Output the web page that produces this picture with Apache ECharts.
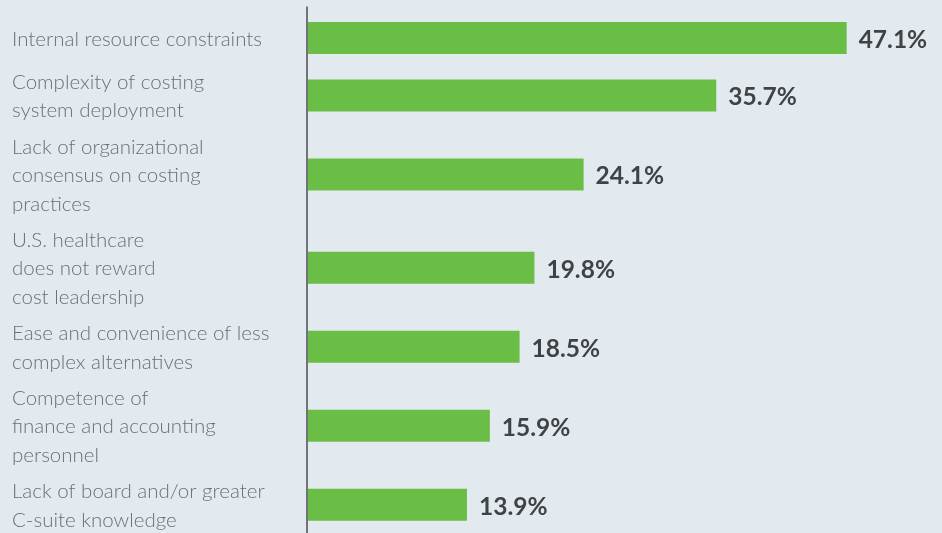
<!DOCTYPE html>
<html>
<head>
<meta charset="utf-8">
<script src="https://cdn.jsdelivr.net/npm/echarts@6/dist/echarts.min.js"></script>
<style>
  html, body { margin: 0; padding: 0; background: #e2eaf0; }
  #chart { width: 942px; height: 533px; }
</style>
</head>
<body>
<div id="chart"></div>
<script>
// categories, top to bottom
const categories = [
  "Internal resource constraints",
  "Complexity of costing\nsystem deployment",
  "Lack of organizational\nconsensus on costing\npractices",
  "U.S. healthcare\ndoes not reward\ncost leadership",
  "Ease and convenience of less\ncomplex alternatives",
  "Competence of\nfinance and accounting\npersonnel",
  "Lack of board and/or greater\nC-suite knowledge"
];
// percent of respondents
const values = [47.1, 35.7, 24.1, 19.8, 18.5, 15.9, 13.9];

// label blocks are stacked by their line count, bars sit in the middle of each block
const LINE_H = 28.6;
const BLOCK_GAP = 7.5;
const FIRST_TOP = 17.5;
const BAR_H = 32;

let blockTop = FIRST_TOP;
const centers = categories.map(c => {
  const h = Math.max(c.split("\n").length, 1.5) * LINE_H;
  const mid = blockTop + h / 2;
  blockTop += h + BLOCK_GAP;
  return mid;
});

const chart = echarts.init(document.getElementById("chart"));

chart.setOption({
  backgroundColor: "#e2eaf0",
  animation: false,
  grid: [
    { left: 308, top: 0, width: 629, height: 533, outerBoundsMode: "none" },
    // only for the vertical axis line
    { left: 307, top: 7, width: 1, height: 540, outerBoundsMode: "none" }
  ],
  xAxis: [
    { gridIndex: 0, type: "value", min: 0, max: 55, show: false },
    { gridIndex: 1, type: "value", show: false }
  ],
  yAxis: [
    {
      gridIndex: 0,
      type: "value",
      min: 0,
      max: 533,
      inverse: true,
      axisLine: { show: false },
      axisTick: { show: false },
      splitLine: { show: false },
      axisLabel: {
        customValues: centers,
        formatter: val => {
          let best = 0;
          centers.forEach((c, i) => {
            if (Math.abs(c - val) < Math.abs(centers[best] - val)) best = i;
          });
          return categories[best];
        },
        align: "left",
        margin: 296,
        color: "#6b7075",
        fontFamily: "Lato",
        fontWeight: 300,
        fontSize: 20.5,
        lineHeight: LINE_H,
        padding: [4, 0, 0, 0],
        hideOverlap: false
      }
    },
    {
      gridIndex: 1,
      type: "value",
      axisLine: { show: true, lineStyle: { color: "#4a4d50", width: 1.5 } },
      axisTick: { show: false },
      axisLabel: { show: false },
      splitLine: { show: false }
    }
  ],
  series: [
    {
      type: "custom",
      xAxisIndex: 0,
      yAxisIndex: 0,
      data: values.map((v, i) => [v, centers[i]]),
      encode: { x: 0, y: 1 },
      renderItem: (params, api) => {
        const v = api.value(0);
        const y = api.value(1);
        const start = api.coord([0, y]);
        const end = api.coord([v, y]);
        return {
          type: "group",
          children: [
            {
              type: "rect",
              shape: {
                x: start[0],
                y: start[1] - BAR_H / 2 - 1,
                width: end[0] - start[0],
                height: BAR_H
              },
              style: { fill: "#6abd45" }
            },
            {
              type: "text",
              x: end[0] + 12,
              y: end[1] + 1,
              style: {
                text: v.toFixed(1) + "%",
                fill: "#404346",
                fontFamily: "Lato",
                fontWeight: "bold",
                fontSize: 24.5,
                verticalAlign: "middle"
              }
            }
          ]
        };
      }
    }
  ]
});
</script>
</body>
</html>
